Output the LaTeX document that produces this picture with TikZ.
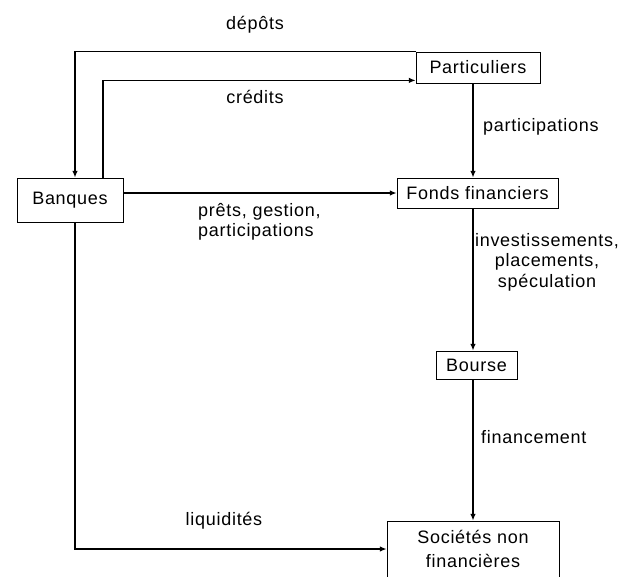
\documentclass[tikz,border=0pt]{standalone}
\usepackage{fontspec}
\setmainfont{Liberation Sans}[LetterSpace=4]
\usetikzlibrary{arrows.meta,positioning,calc}

\begin{document}
\begin{tikzpicture}[
  x=1pt,y=-1pt,
  >={Latex[length=2.4mm,width=2mm]},
  box/.style={draw=black, line width=0.8pt, fill=white, align=center, inner sep=0pt, font=\fontsize{18}{24}\selectfont},
  flow/.style={->, line width=1.6pt, draw=black},
  flab/.style={font=\fontsize{18}{20.5}\selectfont, inner sep=0pt}
]
\useasboundingbox (0,0) rectangle (621,576);

\node[box, minimum width=124pt, minimum height=31pt] (P) at (478,67.5) {Particuliers};
\node[box, minimum width=106pt, minimum height=44pt] (B) at (70,200) {Banques};
\node[box, minimum width=161pt, minimum height=30pt] (F) at (477.5,193) {Fonds financiers};
\node[box, minimum width=81pt, minimum height=28pt] (Bo) at (476.5,365) {Bourse};
\node[box, minimum width=172pt, minimum height=56pt] (S) at (473,549) {Sociétés non\\financières};

\draw[flow] (P.north west) -| ([xshift=5pt]B.north);
\draw[flow] ([xshift=33pt]B.north) |- ([yshift=3pt]P.south west);
\draw[flow] (P.south -| S.north) -- (F.north -| S.north);
\draw[flow] (B.east |- F.west) -- (F.west);
\draw[flow] (F.south -| S.north) -- (Bo.north -| S.north);
\draw[flow] (Bo.south -| S.north) -- (S.north);
\draw[flow] ([xshift=5pt]B.south) |- (S.west);

\node[flab] at (255,25) {dépôts};
\node[flab] at (255,97) {crédits};
\node[flab, anchor=west] at (483,127) {participations};
\node[flab, anchor=north west, align=left] at (198,203) {prêts, gestion,\\participations};
\node[flab, anchor=north, align=center] at (547,233) {investissements,\\placements,\\spéculation};
\node[flab, anchor=west] at (481,437) {financement};
\node[flab] at (224,521) {liquidités};

\end{tikzpicture}
\end{document}
